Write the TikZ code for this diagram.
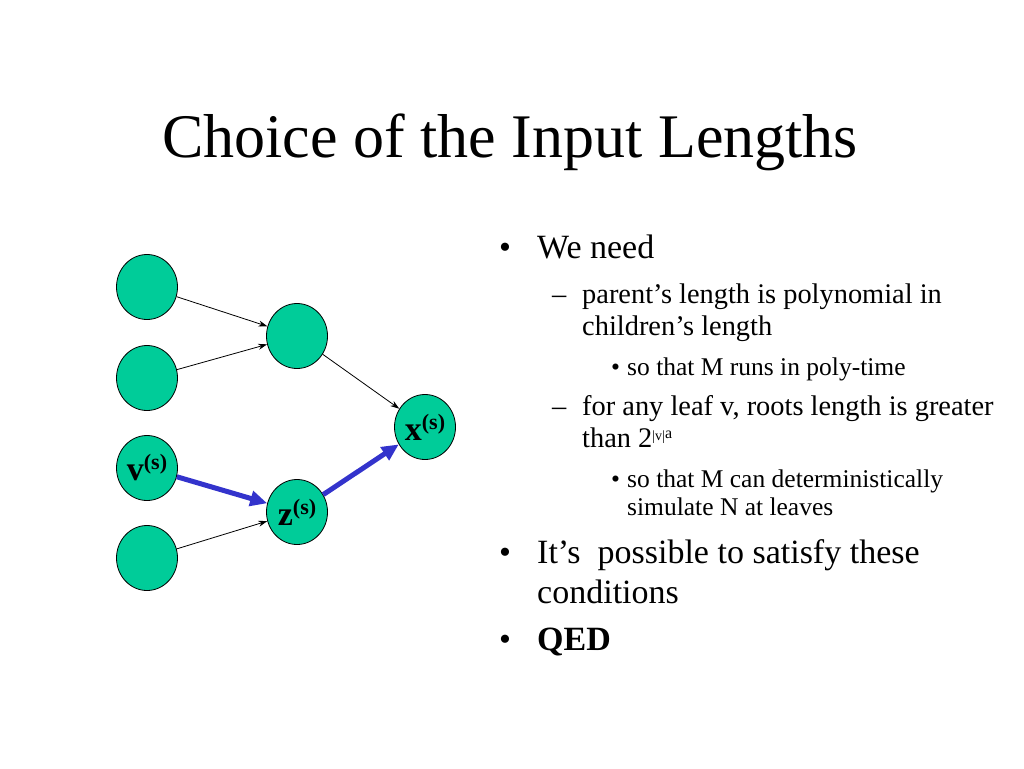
\documentclass[tikz,border=0pt]{standalone}
\usepackage{fontspec}
\setmainfont{Liberation Serif}
\usetikzlibrary{shapes.geometric,arrows.meta}
\definecolor{nodegreen}{RGB}{0,204,153}
\definecolor{pathblue}{RGB}{51,51,204}
\newcommand{\supS}{\raisebox{11pt}{\fontsize{22}{22}\selectfont(s)}}
\begin{document}
\begin{tikzpicture}[x=1pt,y=-1pt,
  vert/.style={ellipse,draw=black,line width=0.8pt,fill=nodegreen,minimum width=61pt,minimum height=65pt,inner sep=0pt,font=\fontsize{34}{34}\selectfont\bfseries},
  thin/.style={-{Stealth[length=9pt,width=6pt]},line width=0.8pt,black},
  thick/.style={-{Triangle[length=17pt,width=15pt]},line width=5pt,pathblue},
  lone/.style={anchor=base west,inner sep=0pt,font=\fontsize{34}{34}\selectfont},
  ltwo/.style={anchor=base west,inner sep=0pt,font=\fontsize{28.4}{28.4}\selectfont},
  lthree/.style={anchor=base west,inner sep=0pt,font=\fontsize{25.5}{25.5}\selectfont}]
\useasboundingbox (0,0) rectangle (1024,768);
\fill[white] (0,0) rectangle (1024,768);
% title
\node[anchor=base,inner sep=0pt,font=\fontsize{62}{62}\selectfont] (title) at (510,157) {Choice of the Input Lengths};
% graph
\node[vert] (l1) at (147,287) {};
\node[vert] (l2) at (147,378) {};
\node[vert] (v) at (147,468) {v\supS};
\node[vert] (l4) at (147,558) {};
\node[vert] (m) at (297,336) {};
\node[vert] (z) at (297,512) {z\supS};
\node[vert] (x) at (425,427) {x\supS};
\draw[thin] (l1) -- (m);
\draw[thin] (l2) -- (m);
\draw[thin] (l4) -- (z);
\draw[thin] (m) -- (x);
\draw[thick] (v) -- (z);
\draw[thick] (z) -- (x);
% text
\node[lone] (b1) at (499,258) {•};
\node[lone] (t1) at (537,258) {We need};
\node[ltwo] (d1) at (552,303) {–};
\node[ltwo] (t2) at (582,303) {parent’s length is polynomial in};
\node[ltwo] (t3) at (582,335) {children’s length};
\node[lthree] (b2) at (611,375) {•};
\node[lthree] (t4) at (627,375) {so that M runs in poly-time};
\node[ltwo] (d2) at (552,415) {–};
\node[ltwo] (t5) at (582,415) {for any leaf v, roots length is greater};
\node[ltwo] (t6) at (582,447) {than 2\raisebox{7pt}{\fontsize{14}{14}\selectfont|v|\raisebox{2pt}{\fontsize{16}{16}\selectfont a}}};
\node[lthree] (b3) at (611,487) {•};
\node[lthree] (t7) at (627,487) {so that M can deterministically};
\node[lthree] (t8) at (627,515) {simulate N at leaves};
\node[lone] (b4) at (499,563) {•};
\node[lone] (t9) at (537,563) {It’s\ \ possible to satisfy these};
\node[lone] (t10) at (537,603) {conditions};
\node[lone] (b5) at (499,650) {•};
\node[lone] (t11) at (537,650) {\bfseries QED};
\end{tikzpicture}
\end{document}
